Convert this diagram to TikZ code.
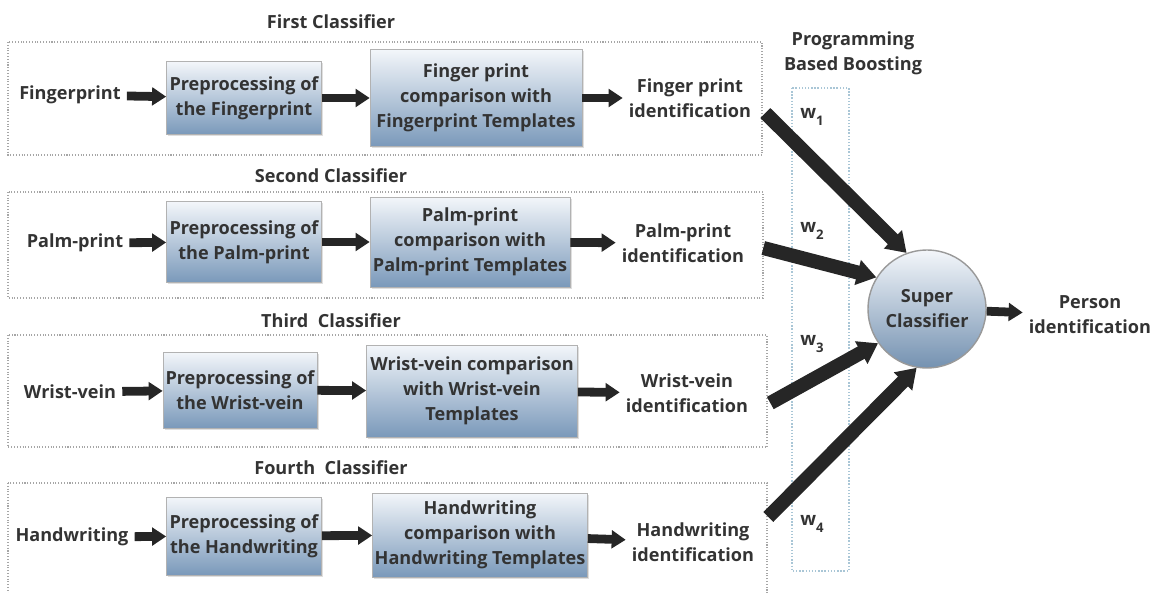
\documentclass[tikz,border=0pt]{standalone}
\usepackage{fontspec}
\setmainfont{Open Sans}
\usetikzlibrary{arrows.meta,shadows}
\definecolor{inkgray}{HTML}{333333}
\definecolor{boxtop}{HTML}{F3F6FA}
\definecolor{boxbot}{HTML}{7A99BA}
\definecolor{boostline}{HTML}{A9C6D6}

\begin{document}
\begin{tikzpicture}[x=0.02cm,y=-0.02cm,
  font=\bfseries\fontsize{10.3}{14.2}\selectfont, text=inkgray]
\tikzset{stagebox/.style={draw=gray!60, top color=boxtop, bottom color=boxbot,
    align=center, inner sep=1pt, drop shadow={opacity=0.25,shadow xshift=1pt,shadow yshift=-1pt}}}
\tikzset{plain/.style={align=center}}
\tikzset{group/.style={draw=gray!70, densely dotted, line width=0.6pt}}
\tikzset{weight/.style={font=\bfseries\fontsize{10.5}{12}\selectfont}}
\tikzset{flow/.style={-{Triangle[length=8pt,width=10pt]}, line width=5pt, draw=black!85}}
\tikzset{vote/.style={-{Triangle[length=11pt,width=14pt]}, line width=8pt, draw=black!85}}
\newcommand{\wsub}[1]{w\raisebox{-4pt}{\fontsize{7.5}{8}\selectfont #1}}
\useasboundingbox (0,0) rectangle (1152,592);

% classifier groups
\draw[group] (8,42) rectangle (762,155);
\draw[group] (8,192) rectangle (763,298);
\draw[group] (8,335) rectangle (767,447);
\draw[group] (8,483) rectangle (767,600);
\node (t1) at (331,22) {First Classifier};
\node (t2) at (331,176) {Second Classifier};
\node (t3) at (331,321) {Third\ \ Classifier};
\node (t4) at (331,468) {Fourth\ \ Classifier};

% first classifier
\node[plain] (in1) at (70,95) {Fingerprint};
\node[stagebox, minimum width=3.1cm, minimum height=1.46cm] (pre1) at (244,98) {Preprocessing of\\the Fingerprint};
\node[stagebox, minimum width=4.24cm, minimum height=1.94cm] (cmp1) at (476,98) {Finger print\\comparison with\\Fingerprint Templates};
\node[plain] (out1) at (690,98) {Finger print\\identification};

% second classifier
\node[plain] (in2) at (75,243) {Palm-print};
\node[stagebox, minimum width=3.1cm, minimum height=1.62cm] (pre2) at (244,242) {Preprocessing of\\the Palm-print};
\node[stagebox, minimum width=4.0cm, minimum height=1.8cm] (cmp2) at (470,242) {Palm-print\\comparison with\\Palm-print Templates};
\node[plain] (out2) at (683,243) {Palm-print\\identification};

% third classifier
\node[plain] (in3) at (70,392) {Wrist-vein};
\node[stagebox, minimum width=3.08cm, minimum height=1.52cm] (pre3) at (240,390) {Preprocessing of\\the Wrist-vein};
\node[stagebox, minimum width=4.22cm, minimum height=1.84cm] (cmp3) at (472,391) {Wrist-vein comparison\\with Wrist-vein\\Templates};
\node[plain] (out3) at (687,393) {Wrist-vein\\identification};

% fourth classifier
\node[plain] (in4) at (72,537) {Handwriting};
\node[stagebox, minimum width=3.1cm, minimum height=1.56cm] (pre4) at (244,536) {Preprocessing of\\the Handwriting};
\node[stagebox, minimum width=4.3cm, minimum height=1.68cm] (cmp4) at (480,535) {Handwriting\\comparison with\\Handwriting Templates};
\node[plain] (out4) at (693,542) {Handwriting\\identification};

\foreach \i in {1,2,3,4}{
  \draw[flow] (in\i) -- (pre\i);
  \draw[flow] (pre\i) -- (cmp\i);
  \draw[flow] (cmp\i) -- (out\i);
}

% boosting column
\draw[draw=boostline, densely dotted, line width=0.8pt] (792,88) rectangle (849,571);
\node[plain] (boost) at (853,53) {Programming\\Based Boosting};
\node[weight] (w1) at (812,117) {\wsub{1}};
\node[weight] (w2) at (812,231) {\wsub{2}};
\node[weight] (w3) at (812,344) {\wsub{3}};
\node[weight] (w4) at (812,524) {\wsub{4}};

% super classifier
\node[circle, draw=gray!80, top color=boxtop, bottom color=boxbot!95!black,
  minimum size=2.36cm, align=center, line width=0.8pt] (sup) at (927,309) {Super\\Classifier};
\node[plain] (person) at (1090,315) {Person\\identification};
\draw[flow] (sup) -- (person);

\draw[vote] ([shift={(8,15)}]out1.east) -- (sup.110);
\draw[vote] ([shift={(13,5)}]out2.east) -- (sup.148);
\draw[vote] ([shift={(16,10)}]out3.east) -- (sup.215);
\draw[vote] ([shift={(8,-25)}]out4.east) -- (sup.260);
\end{tikzpicture}
\end{document}
